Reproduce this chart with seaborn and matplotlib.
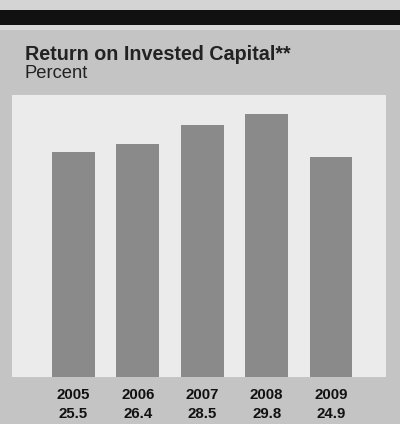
import matplotlib
matplotlib.use("Agg")
import matplotlib.pyplot as plt
import matplotlib.transforms as mtransforms
from matplotlib.patches import Rectangle
import seaborn as sns
import pandas as pd

years = ["2005", "2006", "2007", "2008", "2009"]
values = [25.5, 26.4, 28.5, 29.8, 24.9]
value_labels = ["25.5", "26.4", "28.5", "29.8", "24.9"]
title = "Return on Invested Capital**"
subtitle = "Percent"

sns.set_theme(style="white")
plt.rcParams['font.family'] = ['Liberation Sans', 'DejaVu Sans']

W, H = 400, 424
fig = plt.figure(figsize=(W / 100, H / 100), dpi=100)
fig.patch.set_facecolor("#c4c4c4")

# top strip and black band
fig.patches.append(Rectangle((0, 1 - 10 / H), 1, 10 / H, transform=fig.transFigure,
                             facecolor="#d4d4d4", edgecolor="none", zorder=0))
fig.patches.append(Rectangle((0, 1 - 25 / H), 1, 15 / H, transform=fig.transFigure,
                             facecolor="#111111", edgecolor="none", zorder=1))
fig.patches.append(Rectangle((0, 1 - 30 / H), 1, 5 / H, transform=fig.transFigure,
                             facecolor="#d8d8d8", edgecolor="none", zorder=1))

ax = fig.add_axes([12 / W, (H - 377) / H, 374 / W, 282 / H])
ax.set_facecolor("#ebebeb")

df = pd.DataFrame({"year": years, "value": values})
sns.barplot(data=df, x="year", y="value", color="#8a8a8a", saturation=1,
            width=0.66, linewidth=0, edgecolor="none", ax=ax)

ax.set_xlim(-0.95, 4.85)
ax.set_ylim(0, 31.9)
ax.set_yticks([])
ax.set_xlabel("")
ax.set_ylabel("")
for s in ax.spines.values():
    s.set_visible(False)
ax.tick_params(axis="x", length=0, pad=8, labelsize=10.8, labelcolor="#111111")
for lbl in ax.get_xticklabels():
    lbl.set_fontweight("bold")

trans = mtransforms.blended_transform_factory(ax.transData, ax.transAxes)
for i, v in enumerate(value_labels):
    ax.text(i, -37 / 282, v, transform=trans, ha="center", va="center",
            fontsize=10.8, fontweight="bold", color="#111111")

fig.text(25 / W, 1 - 54 / H, title, ha="left", va="center", fontsize=14.2,
         fontweight="bold", color="#222222")
fig.text(25 / W, 1 - 74 / H, subtitle, ha="left", va="center", fontsize=13.2,
         color="#222222")

fig.savefig("out.png", dpi=100, facecolor=fig.get_facecolor())
